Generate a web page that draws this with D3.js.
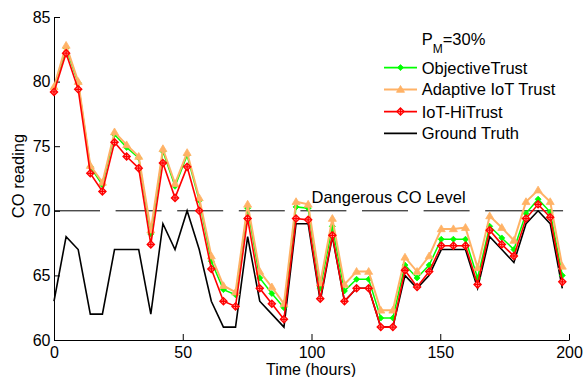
<!DOCTYPE html>
<html><head><meta charset="utf-8">
<script src="https://cdn.jsdelivr.net/npm/d3@7"></script>
<style>
html,body{margin:0;padding:0;background:#fff;}
svg{display:block;font-family:"Liberation Sans",Arial,sans-serif;}
</style></head>
<body><svg id="c" width="584" height="377"></svg>
<script>
const hours = [0,4.7,9.4,14.1,18.8,23.5,28.2,32.9,37.6,42.3,47,51.7,56.4,61.1,65.8,70.5,75.2,79.9,84.6,89.3,94,98.7,103.4,108.1,112.8,117.5,122.2,126.9,131.6,136.3,141,145.7,150.4,155.1,159.8,164.5,169.2,173.9,178.6,183.3,188,192.7,197.4];
const groundTruth = [63,68,67,62,62,67,67,67,62,69,67,70,67,63,61,61,68,63,62,61,69,69,63,68,63,64,64,61,61,65,64,65,67,67,67,64,68,67,66,69,70,69,64];
const ioTHiTrust = [79.2,82.2,79.4,72.9,71.5,75.3,74.2,73.3,67.4,73.7,71.0,73.4,70.0,65.5,63.0,62.6,69.4,64.0,62.8,61.6,69.4,69.3,63.2,68.1,63.0,64.0,64.0,61.0,61.0,65.4,64.1,65.3,67.3,67.3,67.3,64.3,68.5,67.4,66.5,69.4,70.5,69.5,64.5];
const objectiveTrust = [79.5,82.6,79.9,73.4,72.0,75.9,74.9,74.1,68.2,74.6,71.9,74.3,70.8,66.1,63.9,63.5,70.2,64.8,63.6,62.5,70.3,70.2,64.0,68.8,63.8,64.7,64.7,61.7,61.7,65.8,64.8,65.8,67.8,67.8,67.8,64.8,68.8,67.9,67.0,69.8,70.9,69.9,65.0];
const adaptiveIoTTrust = [79.6,82.8,80.0,73.5,72.2,76.1,75.1,74.2,68.5,74.8,72.1,74.5,71.0,66.5,64.2,63.7,70.5,65.3,64.1,62.8,70.7,70.5,64.4,69.4,64.3,65.3,65.3,62.3,62.3,66.4,65.3,66.5,68.6,68.6,68.7,65.6,69.6,68.7,67.7,70.7,71.6,70.7,65.7];
const dangerLevel = 70;
const dangerRange = [0, 197.7];
const xTicks = [0,50,100,150,200];
const yTicks = [60,65,70,75,80,85];
const legendNames = ["ObjectiveTrust","Adaptive IoT Trust","IoT-HiTrust","Ground Truth"];

const svg = d3.select("#c");
const x = d3.scaleLinear().domain([0,200]).range([54,569]);
const y = d3.scaleLinear().domain([60,85]).range([340,17]);

const COL = {green:"#00FF00", orange:"#FFB266", red:"#FF0000", black:"#000000"};

// axes
const xAxis = d3.axisBottom(x).tickValues(xTicks).tickSizeInner(-6).tickSizeOuter(0).tickPadding(6.8);
const yAxis = d3.axisLeft(y).tickValues(yTicks).tickSizeInner(-6).tickSizeOuter(0).tickPadding(3.5);
const gx = svg.append("g").attr("transform","translate(0,340)").call(xAxis);
const gy = svg.append("g").attr("transform","translate(54,0)").call(yAxis);
[gx,gy].forEach(g=>{
  g.selectAll("text").attr("font-size","16px").attr("fill","#000").style("font-family","'Liberation Sans',Arial,sans-serif");
  g.selectAll("line,path").attr("stroke","#000");
});

// danger line
svg.append("line")
  .attr("x1",x(dangerRange[0])).attr("x2",x(dangerRange[1]))
  .attr("y1",y(dangerLevel)).attr("y2",y(dangerLevel))
  .attr("stroke","#000").attr("stroke-width",1)
  .attr("stroke-dasharray","46,15.6,46,15.6,46,15.6,46,15.6,46,15.6,46,15.6,46,15.6,80,0");
svg.append("text").attr("x",311.5).attr("y",203).attr("font-size","16.5px").text("Dangerous CO Level");

const line = d3.line().x((d,i)=>x(hours[i])).y(d=>y(d));

function diamond(g, cx, cy, r, fill, stroke, sw){
  g.append("path").attr("d",`M${cx},${cy-r}L${cx+r},${cy}L${cx},${cy+r}L${cx-r},${cy}Z`)
    .attr("fill",fill).attr("stroke",stroke).attr("stroke-width",sw);
}
function triangle(g, cx, cy, r, col){
  g.append("path").attr("d",`M${cx},${cy-r}L${cx+r},${cy+r*0.7}L${cx-r},${cy+r*0.7}Z`).attr("fill",col).attr("stroke",col).attr("stroke-width",0.8);
}
function redMarker(g, cx, cy){
  diamond(g, cx, cy, 3.6, "#FFB0B0", COL.red, 1.3);
  g.append("path").attr("d",`M${cx-3.1},${cy}H${cx+3.1}M${cx},${cy-3.1}V${cy+3.1}`).attr("stroke",COL.red).attr("stroke-width",1.3);
}

// ground truth
svg.append("path").datum(groundTruth).attr("d",line).attr("fill","none").attr("stroke",COL.black).attr("stroke-width",1.6);
// objective
const gG = svg.append("g");
gG.append("path").datum(objectiveTrust).attr("d",line).attr("fill","none").attr("stroke",COL.green).attr("stroke-width",1.5);
objectiveTrust.forEach((v,i)=>diamond(gG, x(hours[i]), y(v), 3, COL.green, COL.green, 0.8));
// adaptive
const gO = svg.append("g");
gO.append("path").datum(adaptiveIoTTrust).attr("d",line).attr("fill","none").attr("stroke",COL.orange).attr("stroke-width",2);
adaptiveIoTTrust.forEach((v,i)=>triangle(gO, x(hours[i]), y(v), 4, COL.orange));
// hitrust
const gR = svg.append("g");
gR.append("path").datum(ioTHiTrust).attr("d",line).attr("fill","none").attr("stroke",COL.red).attr("stroke-width",1.6);
ioTHiTrust.forEach((v,i)=>redMarker(gR, x(hours[i]), y(v)));

// axis labels
svg.append("text").attr("x",311).attr("y",375).attr("text-anchor","middle").attr("font-size","16px").text("Time (hours)");
svg.append("text").attr("transform","translate(24,176) rotate(-90)").attr("text-anchor","middle").attr("font-size","16.5px").text("CO reading");

// legend
const lg = svg.append("g");
const pm = lg.append("text").attr("x",421.7).attr("y",45).attr("font-size","16.5px");
pm.append("tspan").text("P");
pm.append("tspan").attr("font-size","12px").attr("dy",8).text("M");
pm.append("tspan").attr("dy",-8).text("=30%");

const rowY = [67.6,89.5,111.6,133.4];
const lcol = [COL.green, COL.orange, COL.red, COL.black];
legendNames.forEach((name,k)=>{
  const yy = rowY[k];
  lg.append("line").attr("x1",384).attr("x2",417).attr("y1",yy).attr("y2",yy)
    .attr("stroke",lcol[k]).attr("stroke-width",k===1?2:1.6);
  if(k===0) diamond(lg,400.5,yy,3,COL.green,COL.green,0.8);
  if(k===1) triangle(lg,400.5,yy,4,COL.orange);
  if(k===2) redMarker(lg,400.5,yy);
  lg.append("text").attr("x",421.7).attr("y",yy).attr("dy","0.36em").attr("font-size","16.5px").text(name);
});
</script></body></html>
